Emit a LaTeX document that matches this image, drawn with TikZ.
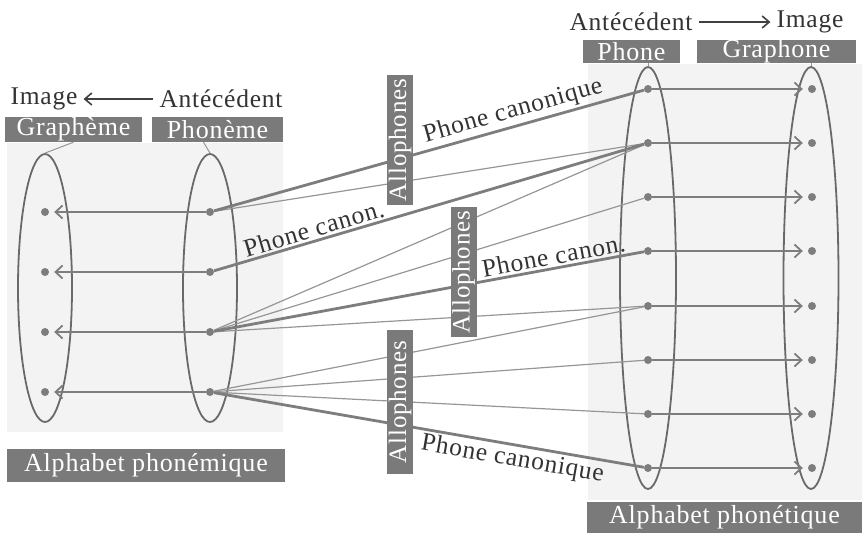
\documentclass[tikz,border=0pt]{standalone}
\usepackage{fontspec}
\setmainfont{Liberation Serif}[LetterSpace=3]
\usepackage{tikz}
\usetikzlibrary{shapes.geometric, arrows, arrows.meta}

\definecolor{tagfill}{RGB}{122,122,122}
\definecolor{setline}{RGB}{105,105,105}
\definecolor{mapline}{RGB}{125,125,125}
\definecolor{alloline}{RGB}{150,150,150}
\definecolor{panel}{RGB}{242,243,242}

\tikzset{
  elem/.style={circle, fill=mapline, inner sep=0pt, minimum size=8pt},
  tag/.style={fill=tagfill, text=white, inner sep=0pt, minimum height=25pt, font=\fontsize{26}{30}\selectfont},
  allo/.style={tag, rotate=90, minimum height=26pt, font=\fontsize{25}{28}\selectfont},
  set/.style={ellipse, draw=setline, line width=1.8pt, inner sep=0pt},
  map/.style={draw=mapline, line width=1.8pt, -{Straight Barb[length=7pt, width=13pt]}, shorten >=5pt},
  allophone/.style={draw=alloline, line width=1.2pt},
  canonical/.style={draw=mapline, line width=2.8pt},
  heading/.style={->, >={Straight Barb[length=7pt, width=12pt]}, line width=1.6pt, black!75, shorten >=4pt, shorten <=4pt},
  label/.style={text=black!80, inner sep=2pt},
}

\begin{document}
\begin{tikzpicture}[x=1pt, y=-1pt, font=\fontsize{25.5}{30}\selectfont]
        \useasboundingbox (0,0) rectangle (863,544);

        % Panels
        \fill[panel] (7,143) rectangle (283,432);
        \fill[panel] (588,64) rectangle (862,500);

        % Left side: phonemic alphabet
        \node[label] (imgL) at (44,99) {Image};
        \node[label] (antL) at (221,99) {Antécédent};
        \draw[heading] (antL.west) -- (imgL.east);
        \node[tag, minimum width=137pt] (graphemeTag) at (73.5,129.5) {Graphème};
        \node[tag, minimum width=131pt] (phonemeTag) at (217.5,129.5) {Phonème};
        \node[set, minimum width=54pt, minimum height=268pt] (graphemes) at (45,288) {};
        \node[set, minimum width=54pt, minimum height=268pt] (phonemes) at (210,288) {};
        \draw[alloline, line width=1pt] (graphemeTag.south) -- (graphemes.north);
        \draw[alloline, line width=1pt] ([xshift=-14pt]phonemeTag.south) -- (phonemes.north);
        \node[tag, minimum width=278pt, minimum height=33pt] (phonemicTag) at (146,465) {Alphabet phonémique};

        % Right side: phonetic alphabet
        \node[label] (antR) at (631,22) {Antécédent};
        \node[label] (imgR) at (810,22) {Image};
        \draw[heading] (antR.east) -- (imgR.west);
        \node[tag, minimum width=97pt, minimum height=23pt] (phoneTag) at (631.5,51.5) {Phone};
        \node[tag, minimum width=159pt, minimum height=23pt] (graphoneTag) at (776.5,51.5) {Graphone};
        \node[set, minimum width=56pt, minimum height=422pt] (phones) at (648,278) {};
        \node[set, minimum width=55pt, minimum height=422pt] (graphones) at (811,278) {};
        \draw[alloline, line width=1pt] (phoneTag.south -| phones.north) -- (phones.north);
        \draw[alloline, line width=1pt] (graphoneTag.south -| graphones.north) -- (graphones.north);
        \node[tag, minimum width=275pt, minimum height=31pt] (phoneticTag) at (724.5,517.5) {Alphabet phonétique};

        % Elements
        \foreach \i/\y in {1/212, 2/272, 3/332, 4/392} {
            \node[elem] (g\i) at (45,\y) {};
            \node[elem] (p\i) at (210,\y) {};
            \draw[map] (p\i) -- (g\i);
        }
        \foreach \i/\y in {1/89, 2/143, 3/197, 4/251, 5/306, 6/360, 7/414, 8/468} {
            \node[elem] (f\i) at (648,\y) {};
            \node[elem] (h\i) at (812,\y) {};
            \draw[map] (f\i) -- (h\i);
        }

        % Allophones
        \draw[allophone] (p1) -- (f2);
        \draw[allophone] (p3) -- (f2);
        \draw[allophone] (p3) -- (f3);
        \draw[allophone] (p3) -- (f5);
        \draw[allophone] (p4) -- (f5);
        \draw[allophone] (p4) -- (f6);
        \draw[allophone] (p4) -- (f7);

        % Canonical phones
        \draw[canonical] (p1) -- node[label, pos=0.705, sloped, above] {Phone canonique} (f1);
        \draw[canonical] (p2) -- node[label, pos=0.24, sloped, above] {Phone canon.} (f2);
        \draw[canonical] (p3) -- node[label, pos=0.795, sloped, above] {Phone canon.} (f4);
        \draw[canonical] (p4) -- node[label, pos=0.70, sloped, below] {Phone canonique} (f8);

        \node[allo, minimum width=130pt] (allo1) at (400,140) {Allophones};
        \node[allo, minimum width=130pt] (allo2) at (463.5,272) {Allophones};
        \node[allo, minimum width=144pt] (allo3) at (400,402) {Allophones};
\end{tikzpicture}
\end{document}
